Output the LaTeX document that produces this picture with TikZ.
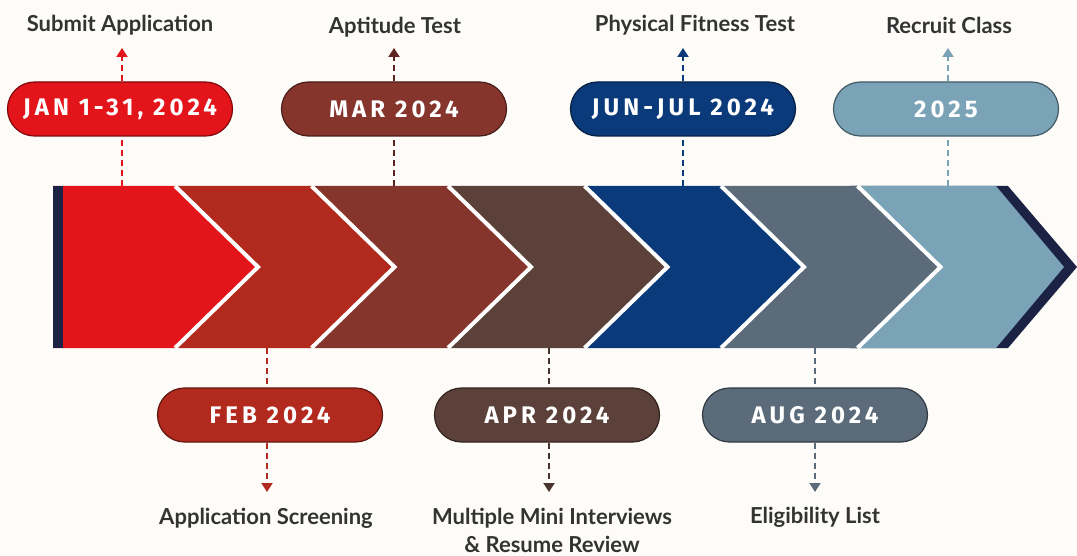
\documentclass[tikz,border=0pt]{standalone}
\usepackage{fontspec}
\setmainfont{Lato}
\newfontfamily\pillfont[LetterSpace=17]{Fira Sans}
\usetikzlibrary{arrows.meta, shapes.misc}
\definecolor{bgcream}{HTML}{FDFCF8}
\definecolor{stepred}{HTML}{E3141A}
\definecolor{stepcrimson}{HTML}{B22A1E}
\definecolor{stepmaroon}{HTML}{86352D}
\definecolor{stepbrown}{HTML}{5C413A}
\definecolor{stepnavy}{HTML}{0A3A7A}
\definecolor{stepslate}{HTML}{5B6B7A}
\definecolor{stepsky}{HTML}{7AA3B7}
\definecolor{inkblue}{HTML}{1C2244}
\definecolor{labelgray}{HTML}{333333}

\begin{document}
\begin{tikzpicture}[x=0.5pt, y=-0.5pt,
  pill/.style={draw=#1!55!black, fill=#1, rounded rectangle, minimum width=112.5pt, minimum height=27pt, inner sep=0pt, line width=0.6pt, text=white, font=\pillfont\bfseries\fontsize{12}{14}\selectfont},
  lbl/.style={font=\bfseries\fontsize{11}{14}\selectfont, text=labelgray, align=center},
  link/.style={draw=#1, line width=1pt, dash pattern=on 3pt off 2pt},
  linkarr/.style={link=#1, -{Triangle[length=4.5pt, width=5.5pt]}},
]
  \fill[bgcream] (0,0) rectangle (1077,556);
  \useasboundingbox (0,0) rectangle (1077,556);

  % band of chevrons
  \fill[inkblue] (850,186) -- (1008,186) -- (1077,267) -- (1008,348) -- (850,348) -- cycle;
  \fill[stepsky] (850,186) -- (996,186) -- (1064,267) -- (996,348) -- (850,348) -- cycle;
  \foreach \i/\col in {5/stepslate, 4/stepnavy, 3/stepbrown, 2/stepmaroon, 1/stepcrimson, 0/stepred} {
    \pgfmathsetmacro\tipx{258+136.5*\i}
    \pgfmathsetmacro\topx{\tipx-83}
    \pgfmathsetmacro\leftx{\i==0 ? 53 : \topx-136.5}
    \fill[\col] (\leftx,186) -- (\topx,186) -- (\tipx,267) -- (\topx,348) -- (\leftx,348) -- cycle;
    \draw[white, line width=2pt] (\topx,186) -- (\tipx,267) -- (\topx,348);
  }
  \fill[inkblue] (53,186) rectangle (63,348);

  % dates
  \node[pill=stepred] (jan) at (120,109) {JAN 1-31, 2024};
  \node[pill=stepmaroon] (mar) at (394,109) {MAR 2024};
  \node[pill=stepnavy] (junjul) at (683,109) {JUN-JUL 2024};
  \node[pill=stepsky] (yr25) at (946,109) {2025};
  \node[pill=stepcrimson] (feb) at (270,415) {FEB 2024};
  \node[pill=stepbrown] (apr) at (547,415) {APR 2024};
  \node[pill=stepslate] (aug) at (815,415) {AUG 2024};

  % steps
  \node[lbl] (submit) at (120,25) {Submit Application};
  \node[lbl] (aptitude) at (395,27) {Aptitude Test};
  \node[lbl] (fitness) at (695,25) {Physical Fitness Test};
  \node[lbl] (recruit) at (949,25) {Recruit Class};
  \node[lbl] (screening) at (266,518) {Application Screening};
  \node[lbl] (mmi) at (552,530) {Multiple Mini Interviews\\\& Resume Review};
  \node[lbl] (elig) at (815,517) {Eligibility List};

  \coordinate (janb) at (122,186);  \coordinate (jant) at (122,48);
  \coordinate (marb) at (394,186);  \coordinate (mart) at (394,48);
  \coordinate (junb) at (683,186);  \coordinate (junt) at (683,48);
  \coordinate (yrb) at (948,186);   \coordinate (yrt) at (948,48);
  \coordinate (febb) at (267,348);  \coordinate (febt) at (267,492);
  \coordinate (aprb) at (549,348);  \coordinate (aprt) at (549,492);
  \coordinate (augb) at (815,348);  \coordinate (augt) at (815,492);

  \draw[link=stepred] (janb) -- (janb |- jan.south);
  \draw[linkarr=stepred] (janb |- jan.north) -- (jant);
  \draw[link=stepmaroon!70!black] (marb) -- (marb |- mar.south);
  \draw[linkarr=stepmaroon!70!black] (marb |- mar.north) -- (mart);
  \draw[link=stepnavy] (junb) -- (junb |- junjul.south);
  \draw[linkarr=stepnavy] (junb |- junjul.north) -- (junt);
  \draw[link=stepsky] (yrb) -- (yrb |- yr25.south);
  \draw[linkarr=stepsky] (yrb |- yr25.north) -- (yrt);
  \draw[link=stepcrimson] (febb) -- (febb |- feb.north);
  \draw[linkarr=stepcrimson] (febb |- feb.south) -- (febt);
  \draw[link=stepbrown!80!black] (aprb) -- (aprb |- apr.north);
  \draw[linkarr=stepbrown!80!black] (aprb |- apr.south) -- (aprt);
  \draw[link=stepslate] (augb) -- (augb |- aug.north);
  \draw[linkarr=stepslate] (augb |- aug.south) -- (augt);
\end{tikzpicture}
\end{document}
